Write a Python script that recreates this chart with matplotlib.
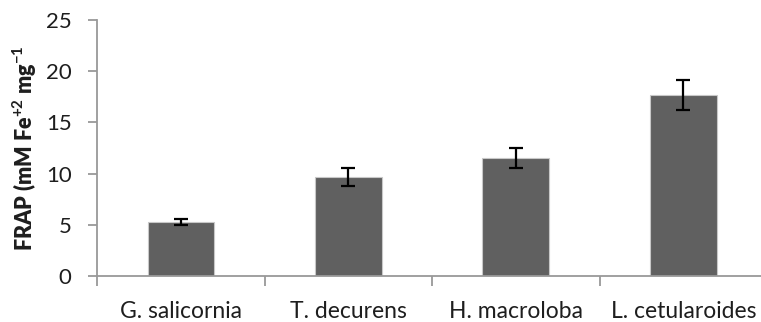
import matplotlib
matplotlib.use("Agg")
import matplotlib.pyplot as plt
import numpy as np

categories = ["G. salicornia", "T. decurens", "H. macroloba", "L. cetularoides"]
values = [5.27, 9.63, 11.55, 17.68]
errors = [0.31, 0.88, 0.96, 1.47]
yticks = [0, 5, 10, 15, 20, 25]

plt.rcParams['font.family'] = ['Lato', 'DejaVu Sans']
plt.rcParams['mathtext.fontset'] = 'custom'
plt.rcParams['mathtext.rm'] = 'Lato'
plt.rcParams['mathtext.bf'] = 'Lato:bold'

fig = plt.figure(figsize=(7.61, 3.22), dpi=100)
W, H = 761, 322
left, right, bottom, top = 97.3, 767.0, 276.0, 20.0
ax = fig.add_axes([left / W, (H - bottom) / H, (right - left) / W, (bottom - top) / H])

x = np.arange(len(categories))
ax.bar(x, values, width=0.4, color="#606060", edgecolor="#c8c8c8", linewidth=0.8, zorder=2)
ax.errorbar(x, values, yerr=errors, fmt="none", ecolor="black", elinewidth=1.6,
            capsize=4.8, capthick=1.6, zorder=3)

ax.set_xlim(-0.5, len(categories) - 0.5)
ax.set_ylim(0, 25)
ax.set_yticks(yticks)
ax.set_yticklabels([str(t) for t in yticks], fontsize=16, color="#1e1e1e")

ax.set_xticks(x)
ax.set_xticklabels(categories, fontsize=16.5, color="#1e1e1e")
ax.set_xticks(np.arange(-0.5, len(categories) + 0.5, 1.0), minor=True)
ax.tick_params(axis="x", which="major", length=0, pad=18)
ax.tick_params(axis="x", which="minor", length=7.5, width=1.3, color="#999999")
ax.tick_params(axis="y", length=6.5, width=1.3, color="#999999", pad=12)

for s in ["top", "right"]:
    ax.spines[s].set_visible(False)
for s in ["left", "bottom"]:
    ax.spines[s].set_color("#999999")
    ax.spines[s].set_linewidth(1.3)

ax.set_ylabel(r"FRAP (mM Fe$^{\mathbf{+2}}$ mg$^{\mathbf{-1}}$", fontsize=15.5, fontweight="heavy",
              color="#1e1e1e", labelpad=5)

fig.savefig("out.png", dpi=100)
